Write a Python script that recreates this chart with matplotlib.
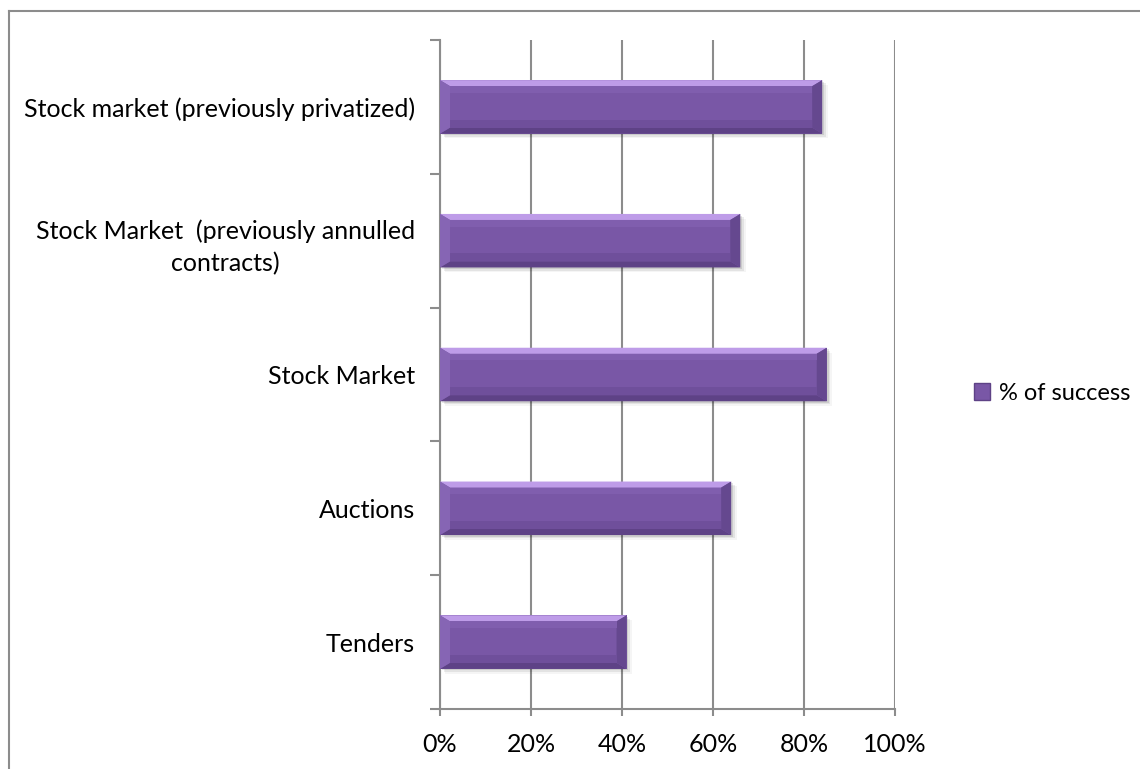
import numpy as np
import matplotlib
matplotlib.use("Agg")
import matplotlib.pyplot as plt
from matplotlib.patches import Polygon, Patch
from matplotlib.lines import Line2D

# data (bottom to top, as drawn)
categories = ["Tenders", "Auctions", "Stock Market",
              "Stock Market  (previously annulled\ncontracts)",
              "Stock market (previously privatized)"]
success = [41, 64, 85, 66, 84]
x_ticks = [0, 20, 40, 60, 80, 100]
x_labels = ["0%", "20%", "40%", "60%", "80%", "100%"]
series_name = "% of success"

plt.rcParams['font.family'] = ['Lato', 'DejaVu Sans']

fig = plt.figure(figsize=(11.4, 7.69), dpi=100)
ax = fig.add_axes([440 / 1140, 1 - 709 / 769, 455 / 1140, 669 / 769])

face = "#7957A6"
grid_c = "#8C8C8C"
y = np.arange(len(categories))
bar_h = 0.4

# soft shadow
for k, a in enumerate([0.10, 0.07, 0.04]):
    ax.barh(y - 0.012 * (k + 1), success, height=bar_h, left=0.4 * (k + 1),
            color="black", alpha=a, zorder=2, linewidth=0)

bars = ax.barh(y, success, height=bar_h, color=face, zorder=3, linewidth=0)

# bevel edges
dx, dy = 2.2, 0.045
for b in bars:
    x0, y0, w, h = b.get_x(), b.get_y(), b.get_width(), b.get_height()
    x1, y1 = x0 + w, y0 + h
    top = [(x0, y1), (x1, y1), (x1 - dx, y1 - dy), (x0 + dx, y1 - dy)]
    bot = [(x0, y0), (x1, y0), (x1 - dx, y0 + dy), (x0 + dx, y0 + dy)]
    lft = [(x0, y0), (x0, y1), (x0 + dx, y1 - dy), (x0 + dx, y0 + dy)]
    rgt = [(x1, y0), (x1, y1), (x1 - dx, y1 - dy), (x1 - dx, y0 + dy)]
    for pts, c in [(top, "#BE9CE8"), (bot, "#5E4286"), (lft, "#8665B4"), (rgt, "#65488F")]:
        ax.add_patch(Polygon(pts, closed=True, color=c, zorder=4, linewidth=0))
    # subtle gradient bands on face
    ax.add_patch(Polygon([(x0 + dx, y1 - dy), (x1 - dx, y1 - dy),
                          (x1 - dx, y1 - dy - 0.05), (x0 + dx, y1 - dy - 0.05)],
                         closed=True, color="#805EAE", zorder=4, linewidth=0))
    ax.add_patch(Polygon([(x0 + dx, y0 + dy), (x1 - dx, y0 + dy),
                          (x1 - dx, y0 + dy + 0.06), (x0 + dx, y0 + dy + 0.06)],
                         closed=True, color="#6F4F9B", zorder=4, linewidth=0))

ax.set_xlim(0, 100)
ax.set_ylim(-0.5, len(categories) - 0.5)
ax.set_xticks(x_ticks)
ax.set_xticklabels(x_labels, fontsize=18)
ax.set_yticks(y)
ax.set_yticklabels(categories, fontsize=18, multialignment="center", linespacing=1.5)
ax.set_yticks(np.arange(-0.5, len(categories), 1), minor=True)
ax.tick_params(axis="y", which="major", length=0, pad=18)
ax.tick_params(axis="y", which="minor", length=7, width=1.5, color=grid_c)
ax.tick_params(axis="x", length=5, width=1.5, color=grid_c, pad=12)

ax.grid(axis="x", color=grid_c, linewidth=1.5, zorder=1)
ax.set_axisbelow(True)
for s in ["top", "right"]:
    ax.spines[s].set_visible(False)
for s in ["left", "bottom"]:
    ax.spines[s].set_color(grid_c)
    ax.spines[s].set_linewidth(1.5)

handle = Patch(facecolor=face, edgecolor="#5E4286", linewidth=1)
fig.legend([handle], [series_name], loc="center right",
           bbox_to_anchor=(1130 / 1140, 1 - 393 / 769), frameon=False,
           borderpad=0, borderaxespad=0,
           fontsize=17, handlelength=0.7, handleheight=0.7, handletextpad=0.35)

# chart area border (left and top edges)
fig.add_artist(Line2D([8.5 / 1140, 8.5 / 1140], [0, 1 - 10.5 / 769],
                      color=grid_c, linewidth=1.5))
fig.add_artist(Line2D([8.5 / 1140, 1], [1 - 10.5 / 769, 1 - 10.5 / 769],
                      color=grid_c, linewidth=1.5))

fig.savefig("out.png", dpi=100, facecolor="white")
